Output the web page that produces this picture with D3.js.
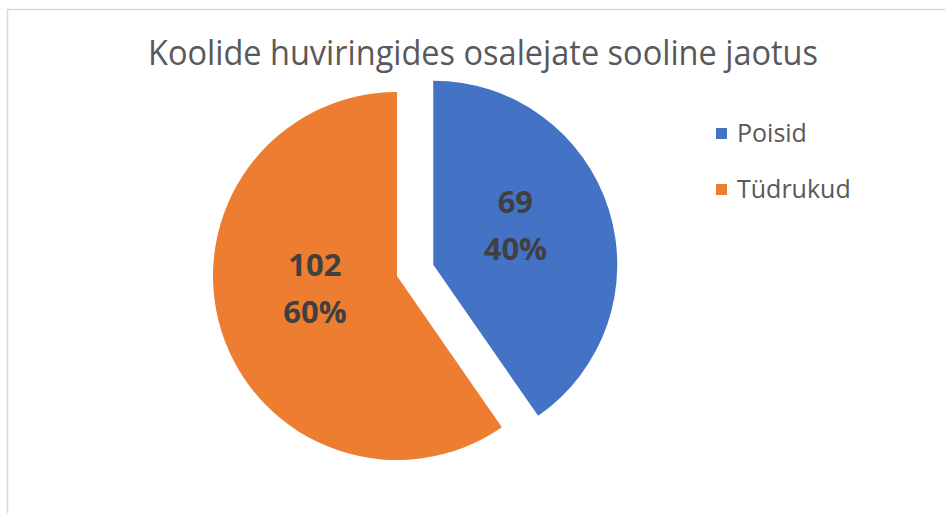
<!DOCTYPE html>
<html>
<head>
<meta charset="utf-8">
<script src="https://cdn.jsdelivr.net/npm/d3@7"></script>
<style>
  body { margin: 0; background: #fff; }
  svg { display: block; }
</style>
</head>
<body>
<svg id="chart" width="945" height="513"></svg>
<script>
// data
var categories = ["Poisid", "Tüdrukud"];
var values = [69, 102];
var percentLabels = ["40%", "60%"];
var colors = ["#4472C4", "#ED7D31"];
var titleText = "Koolide huviringides osalejate sooline jaotus";

var W = 945, H = 513;
var CX = 397, CY = 276, R = 184;
var EXPLODE = [38, 0];   // slice pulled out along its mid angle
var LABEL_R = 86;

var svg = d3.select("#chart");

// chart area border (runs off right and bottom)
svg.append("rect")
  .attr("x", 7.5).attr("y", 9.5)
  .attr("width", W + 20).attr("height", H + 20)
  .attr("fill", "#fff")
  .attr("stroke", "#d9d9d9")
  .attr("stroke-width", 1.5);

// title, squeezed to the width it has in the picture (Calibri is narrow)
svg.append("text")
  .attr("x", 483).attr("y", 65)
  .attr("text-anchor", "middle")
  .attr("fill", "#595959")
  .attr("textLength", 670)
  .attr("lengthAdjust", "spacingAndGlyphs")
  .style("font-family", "'Open Sans', 'Noto Sans', sans-serif")
  .style("font-weight", 400)
  .style("font-size", "34px")
  .text(titleText);

var pie = d3.pie().sort(null).value(function(d) { return d; });
var arcs = pie(values);
var arc = d3.arc().innerRadius(0).outerRadius(R);
var labelArc = d3.arc().innerRadius(LABEL_R).outerRadius(LABEL_R);

function offset(d, i) {
  var a = (d.startAngle + d.endAngle) / 2;
  return [CX + Math.sin(a) * EXPLODE[i], CY - Math.cos(a) * EXPLODE[i]];
}

var g = svg.append("g");
var slice = g.selectAll("g.slice")
  .data(arcs)
  .enter().append("g")
  .attr("class", "slice")
  .attr("transform", function(d, i) {
    var o = offset(d, i);
    return "translate(" + o[0] + "," + o[1] + ")";
  });

slice.append("path")
  .attr("d", arc)
  .attr("fill", function(d, i) { return colors[i]; });

var lbl = slice.append("text")
  .attr("transform", function(d) {
    var c = labelArc.centroid(d);
    return "translate(" + c[0] + "," + (c[1] - 14) + ")";
  })
  .attr("text-anchor", "middle")
  .attr("fill", "#404040")
  .style("font-family", "'Open Sans', 'Noto Sans', sans-serif")
  .style("font-weight", 700)
  .style("font-size", "31px");
lbl.append("tspan").attr("x", 0).attr("y", -12)
  .text(function(d) { return d.value; });
lbl.append("tspan").attr("x", 0).attr("y", 35)
  .text(function(d, i) { return percentLabels[i]; });

// legend
var legend = svg.append("g").attr("transform", "translate(716,128)");
var item = legend.selectAll("g")
  .data(categories)
  .enter().append("g")
  .attr("transform", function(d, i) { return "translate(0," + (i * 56) + ")"; });
item.append("rect")
  .attr("width", 11).attr("height", 11)
  .attr("fill", function(d, i) { return colors[i]; });
item.append("text")
  .attr("x", 21).attr("y", 14)
  .attr("fill", "#595959")
  .style("font-family", "'Open Sans', 'Noto Sans', sans-serif")
  .style("font-size", "25px")
  .text(function(d) { return d; });
</script>
</body>
</html>
